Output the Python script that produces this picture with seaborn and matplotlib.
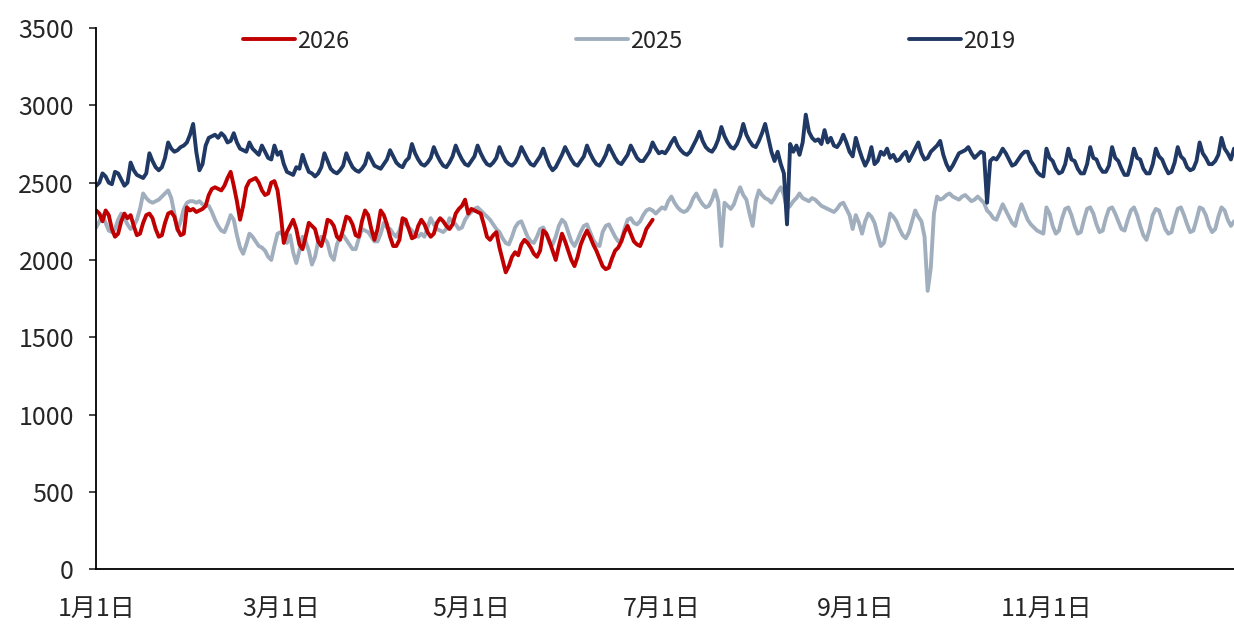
import numpy as np
import pandas as pd
import seaborn as sns
import matplotlib.pyplot as plt

# daily values, Jan 1 .. Dec 31 (2026 runs to Jun 28)
y2019 = [
    # Jan
    2480, 2500, 2560, 2540, 2500, 2490, 2570, 2560, 2520, 2480, 2500, 2630, 2580, 2550, 2540, 2530,
    2560, 2690, 2640, 2600, 2580, 2600, 2660, 2760, 2720, 2700, 2710, 2730, 2740, 2760, 2810,
    # Feb
    2880, 2700, 2580, 2620, 2740, 2790, 2800, 2810, 2790, 2820, 2800, 2760, 2770, 2820, 2760, 2720,
    2710, 2700, 2760, 2720, 2700, 2680, 2740, 2700, 2660, 2650, 2740, 2680,
    # Mar
    2700, 2620, 2570, 2560, 2550, 2600, 2590, 2680, 2620, 2570, 2560, 2540, 2560, 2600, 2690, 2640,
    2590, 2570, 2560, 2580, 2610, 2690, 2640, 2600, 2580, 2570, 2590, 2620, 2690, 2650, 2610,
    # Apr
    2600, 2590, 2620, 2650, 2710, 2670, 2630, 2610, 2600, 2640, 2660, 2750, 2690, 2650, 2620, 2610,
    2630, 2660, 2730, 2680, 2640, 2610, 2600, 2630, 2670, 2740, 2690, 2650, 2620, 2610,
    # May
    2640, 2670, 2740, 2690, 2650, 2620, 2610, 2630, 2660, 2730, 2680, 2640, 2620, 2610, 2630, 2670,
    2730, 2690, 2650, 2620, 2610, 2640, 2670, 2720, 2660, 2610, 2580, 2600, 2640, 2680, 2730,
    # Jun
    2690, 2650, 2620, 2610, 2640, 2670, 2740, 2690, 2650, 2620, 2610, 2640, 2680, 2740, 2700, 2660,
    2630, 2620, 2650, 2680, 2740, 2700, 2660, 2640, 2640, 2670, 2700, 2760, 2720, 2690,
    # Jul
    2700, 2690, 2720, 2760, 2790, 2740, 2710, 2690, 2680, 2700, 2740, 2780, 2830, 2770, 2730, 2710,
    2700, 2730, 2780, 2860, 2800, 2760, 2730, 2720, 2750, 2800, 2880, 2810, 2770, 2740, 2730,
    # Aug
    2770, 2820, 2880, 2790, 2700, 2640, 2700, 2620, 2560, 2230, 2750, 2700, 2740, 2680, 2760, 2940,
    2830, 2790, 2770, 2780, 2750, 2840, 2760, 2790, 2740, 2730, 2760, 2810, 2760, 2700, 2670,
    # Sep
    2790, 2720, 2660, 2610, 2650, 2730, 2620, 2640, 2700, 2680, 2720, 2660, 2680, 2640, 2650, 2680,
    2700, 2640, 2680, 2720, 2760, 2690, 2650, 2660, 2700, 2720, 2740, 2770, 2680, 2620,
    # Oct
    2580, 2610, 2650, 2690, 2700, 2710, 2730, 2690, 2660, 2680, 2700, 2690, 2370, 2640, 2660, 2650,
    2680, 2720, 2690, 2650, 2610, 2620, 2650, 2680, 2700, 2700, 2640, 2610, 2570, 2550, 2540,
    # Nov
    2720, 2660, 2640, 2590, 2560, 2570, 2620, 2720, 2650, 2640, 2590, 2560, 2560, 2620, 2730, 2660,
    2650, 2600, 2570, 2570, 2610, 2730, 2660, 2640, 2590, 2550, 2550, 2620, 2720, 2660,
    # Dec
    2650, 2590, 2560, 2560, 2620, 2720, 2670, 2650, 2600, 2560, 2570, 2630, 2730, 2670, 2650, 2600,
    2580, 2590, 2640, 2760, 2690, 2660, 2620, 2620, 2640, 2680, 2790, 2720, 2690, 2650, 2720,
]

y2025 = [
    # Jan
    2210, 2250, 2290, 2240, 2190, 2180, 2200, 2260, 2300, 2270, 2230, 2200, 2220, 2260, 2330, 2430,
    2400, 2380, 2370, 2380, 2390, 2410, 2430, 2450, 2400, 2300, 2190, 2250, 2330, 2370, 2380,
    # Feb
    2380, 2370, 2380, 2360, 2350, 2350, 2310, 2260, 2220, 2190, 2180, 2230, 2290, 2260, 2160, 2080,
    2040, 2100, 2170, 2150, 2120, 2090, 2080, 2060, 2020, 2000, 2090, 2170,
    # Mar
    2180, 2150, 2110, 2160, 2050, 1980, 2060, 2150, 2120, 2060, 1970, 2020, 2120, 2150, 2140, 2110,
    2030, 2000, 2100, 2150, 2160, 2130, 2100, 2070, 2070, 2140, 2200, 2190, 2180, 2150, 2120,
    # Apr
    2120, 2170, 2240, 2210, 2200, 2170, 2150, 2190, 2260, 2230, 2210, 2190, 2160, 2150, 2170, 2150,
    2210, 2270, 2230, 2200, 2190, 2180, 2200, 2270, 2250, 2230, 2200, 2210, 2260, 2290,
    # May
    2310, 2330, 2340, 2320, 2300, 2280, 2260, 2230, 2200, 2180, 2140, 2110, 2100, 2150, 2210, 2240,
    2250, 2200, 2150, 2120, 2110, 2150, 2200, 2210, 2170, 2110, 2100, 2150, 2220, 2260, 2240,
    # Jun
    2180, 2120, 2090, 2130, 2180, 2220, 2230, 2180, 2130, 2100, 2090, 2180, 2220, 2230, 2190, 2150,
    2120, 2130, 2200, 2260, 2270, 2240, 2230, 2250, 2290, 2320, 2330, 2320, 2300, 2320,
    # Jul
    2340, 2330, 2380, 2410, 2370, 2340, 2320, 2310, 2320, 2350, 2400, 2430, 2390, 2360, 2340, 2350,
    2390, 2450, 2380, 2090, 2370, 2350, 2330, 2360, 2420, 2470, 2420, 2390, 2300, 2220, 2380,
    # Aug
    2450, 2420, 2400, 2390, 2370, 2400, 2440, 2470, 2420, 2330, 2350, 2380, 2400, 2430, 2400, 2390,
    2380, 2400, 2390, 2370, 2350, 2340, 2330, 2320, 2310, 2330, 2360, 2370, 2330, 2290, 2200,
    # Sep
    2290, 2240, 2170, 2250, 2300, 2280, 2240, 2160, 2090, 2110, 2200, 2300, 2280, 2250, 2200, 2160,
    2140, 2180, 2250, 2320, 2280, 2250, 2150, 1800, 1950, 2300, 2410, 2390, 2400, 2420,
    # Oct
    2430, 2410, 2400, 2390, 2410, 2420, 2400, 2380, 2390, 2410, 2390, 2370, 2320, 2300, 2270, 2260,
    2310, 2360, 2320, 2280, 2240, 2220, 2300, 2360, 2310, 2260, 2230, 2210, 2190, 2180, 2170,
    # Nov
    2340, 2300, 2220, 2170, 2190, 2270, 2330, 2340, 2290, 2220, 2170, 2180, 2260, 2330, 2340, 2300,
    2230, 2180, 2190, 2270, 2330, 2340, 2300, 2250, 2200, 2190, 2260, 2320, 2340, 2290,
    # Dec
    2220, 2160, 2130, 2200, 2290, 2330, 2320, 2260, 2200, 2170, 2180, 2260, 2330, 2340, 2290, 2230,
    2180, 2190, 2260, 2340, 2330, 2290, 2220, 2180, 2200, 2280, 2340, 2320, 2260, 2220, 2250,
]

y2026 = [
    # Jan
    2320, 2300, 2250, 2320, 2290, 2200, 2150, 2170, 2250, 2300, 2270, 2290, 2220, 2160, 2170, 2240,
    2290, 2300, 2270, 2200, 2150, 2160, 2240, 2300, 2310, 2280, 2200, 2160, 2170, 2340, 2320,
    # Feb
    2330, 2310, 2320, 2330, 2350, 2420, 2460, 2470, 2460, 2450, 2480, 2530, 2570, 2480, 2380, 2260,
    2350, 2470, 2510, 2520, 2530, 2500, 2450, 2420, 2430, 2500, 2510, 2450,
    # Mar
    2300, 2110, 2180, 2220, 2260, 2200, 2100, 2070, 2150, 2240, 2220, 2200, 2120, 2090, 2160, 2260,
    2250, 2220, 2150, 2130, 2200, 2280, 2270, 2230, 2160, 2150, 2250, 2320, 2290, 2200, 2130,
    # Apr
    2200, 2320, 2290, 2230, 2150, 2090, 2090, 2130, 2270, 2260, 2200, 2140, 2150, 2220, 2260, 2230,
    2180, 2150, 2170, 2240, 2270, 2250, 2220, 2200, 2230, 2300, 2330, 2350, 2390, 2300,
    # May
    2330, 2320, 2310, 2300, 2230, 2150, 2130, 2160, 2180, 2080, 2000, 1920, 1960, 2020, 2050, 2030,
    2100, 2130, 2110, 2080, 2040, 2020, 2060, 2190, 2170, 2120, 2060, 2000, 2090, 2170, 2120,
    # Jun
    2060, 2000, 1960, 2020, 2100, 2150, 2190, 2150, 2100, 2060, 2010, 1960, 1940, 1950, 2010, 2060,
    2080, 2120, 2180, 2220, 2170, 2120, 2100, 2090, 2140, 2200, 2230, 2260,
]

tick_days = [0, 59, 120, 181, 243, 304]
tick_labels = ["1月1日", "3月1日", "5月1日", "7月1日", "9月1日", "11月1日"]

colors = {"2026": "#C00000", "2025": "#A0AEBD", "2019": "#1F3864"}

sns.set_style("white")
plt.rcParams["font.family"] = ["Noto Sans CJK SC", "DejaVu Sans"]

fig = plt.figure(figsize=(12.34, 6.24), dpi=100)
ax = fig.add_axes([0.078, 0.088, 0.922, 0.867])

lw = 2.8
sns.lineplot(x=np.arange(len(y2025)), y=y2025, color=colors["2025"], lw=lw, ax=ax, label="2025")
sns.lineplot(x=np.arange(len(y2019)), y=y2019, color=colors["2019"], lw=lw, ax=ax, label="2019")
sns.lineplot(x=np.arange(len(y2026)), y=y2026, color=colors["2026"], lw=lw, ax=ax, label="2026")

ax.set_xlim(0, 364)
ax.set_ylim(0, 3500)
ax.set_yticks(range(0, 3501, 500))
ax.set_xticks(tick_days)
ax.set_xticklabels(tick_labels)
ax.tick_params(axis="x", length=0, pad=19, labelsize=18)
ax.tick_params(axis="y", length=5, width=1.2, direction="out", pad=11, labelsize=18, left=True)
ax.set_xlabel("")
ax.set_ylabel("")
for s in ["top", "right"]:
    ax.spines[s].set_visible(False)
for s in ["left", "bottom"]:
    ax.spines[s].set_color("black")
    ax.spines[s].set_linewidth(1.3)

handles, labels = ax.get_legend_handles_labels()
order = [labels.index(k) for k in ["2026", "2025", "2019"]]
fig.legend([handles[i] for i in order], [labels[i] for i in order],
           loc="center", bbox_to_anchor=(0.51, 0.934), ncol=3, frameon=False,
           fontsize=17, handlelength=2.2, handletextpad=0.1, columnspacing=9.6)
ax.get_legend().remove()

fig.savefig("out.png", dpi=100)
